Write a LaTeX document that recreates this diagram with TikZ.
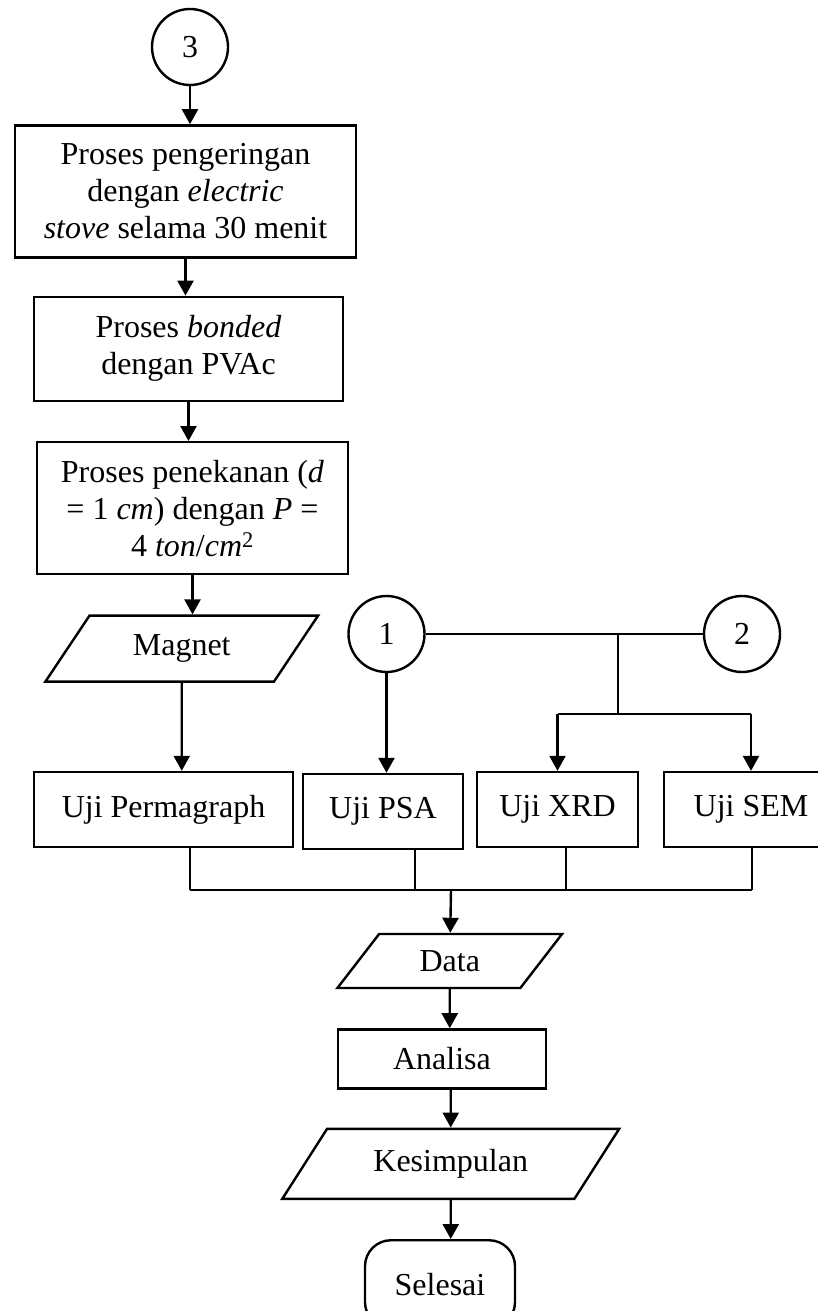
\documentclass[tikz,border=0pt]{standalone}
\usepackage{fontspec}
\setmainfont{Liberation Serif}
\usepackage{tikz}
\usetikzlibrary{positioning,arrows.meta,shapes.geometric}
\tikzset{
  proc/.style={rectangle, draw=black, line width=2.4pt, align=center, inner sep=0pt},
  conn/.style={circle, draw=black, line width=2.4pt, minimum size=76pt, inner sep=0pt},
  io/.style={trapezium, draw=black, line width=2.4pt, trapezium left angle=50,
    trapezium right angle=130, trapezium stretches=true, inner sep=0pt},
  term/.style={rectangle, draw=black, line width=2.4pt, rounded corners=26pt,
    minimum width=150pt, minimum height=88pt, inner sep=0pt},
  flow/.style={draw=black, line width=2.4pt, -{Triangle[length=15pt,width=16pt]}},
  link/.style={draw=black, line width=1.2pt}
}

\begin{document}
\begin{tikzpicture}[x=1pt, y=-1pt, font=\fontsize{32}{37}\selectfont]
  \useasboundingbox (0,0) rectangle (818,1311);

  \node[conn] (c3) at (190,47) {3};
  \node[proc, below=38pt of c3, xshift=-4.5pt, minimum width=341pt, minimum height=132pt] (b1)
    {Proses pengeringan\\ dengan \textit{electric}\\ \textit{stove} selama 30 menit};
  \node[proc, below=37pt of b1, xshift=3pt, minimum width=309pt, minimum height=104pt] (b2)
    {Proses \textit{bonded}\\ dengan PVAc};
  \node[proc, below=39pt of b2, xshift=4pt, minimum width=311pt, minimum height=132pt] (b3)
    {Proses penekanan (\textit{d}\\ = 1 \textit{cm}) dengan \textit{P} =\\ 4 \textit{ton}/\textit{cm}\textsuperscript{2}};
  \node[io, below=39pt of b3, xshift=-10.75pt, minimum width=273pt, minimum height=66pt] (magnet) {Magnet};

  \node[conn] (c1) at (386.5,634) {1};
  \node[conn] (c2) at (742,634) {2};

  \node[proc, minimum width=259pt, minimum height=75pt] (perm) at (163.5,809.5) {Uji Permagraph};
  \node[proc, minimum width=160pt, minimum height=75pt] (psa) at (383,811.5) {Uji PSA};
  \node[proc, minimum width=161pt, minimum height=75pt] (xrd) at (557.5,809.5) {Uji XRD};
  \node[proc, minimum width=174pt, minimum height=75pt] (sem) at (751,809.5) {Uji SEM};

  \node[io, minimum width=225pt, minimum height=54pt] (data) at (449.75,961) {Data};
  \node[proc, below=39pt of data, xshift=-7.75pt, minimum width=208pt, minimum height=59pt] (analisa) {Analisa};
  \node[io, below=38pt of analisa, xshift=8.75pt, trapezium left angle=46, trapezium right angle=134,
    minimum width=337pt, minimum height=70pt] (kes) {Kesimpulan};
  \node[term, below=39pt of kes, xshift=-10.75pt] (sel) {Selesai};

  \coordinate (split) at (618,714);
  \coordinate (m1) at (190,890);
  \coordinate (m2) at (415,890);
  \coordinate (m3) at (566,890);
  \coordinate (m4) at (752,890);
  \coordinate (merge) at (451,890);

  \draw[flow] (c3) -- (c3 |- b1.north);
  \draw[flow] (b1) -- (b1 |- b2.north);
  \draw[flow] (b2) -- (b2 |- b3.north);
  \draw[flow] (b3) -- (b3 |- magnet.north);
  \draw[flow] (magnet) -- (magnet |- perm.north);
  \draw[flow] (c1) -- (c1 |- psa.north);

  \draw[link] (c1) -- (c2);
  \draw[link] (split |- c1) -- (split);
  \draw[link] (split -| xrd) -- (split -| sem);
  \draw[flow] (split -| xrd) -- (xrd);
  \draw[flow] (split -| sem) -- (sem);

  \draw[link] (m1 |- perm.south) -- (m1);
  \draw[link] (m2 |- psa.south) -- (m2);
  \draw[link] (m3 |- xrd.south) -- (m3);
  \draw[link] (m4 |- sem.south) -- (m4);
  \draw[link] (m1) -- (m4);
  \draw[flow] (merge) -- (data);

  \draw[flow] (data) -- (data |- analisa.north);
  \draw[flow] (kes |- analisa.south) -- (kes);
  \draw[flow] (kes) -- (kes |- sel.north);

\end{tikzpicture}
\end{document}
